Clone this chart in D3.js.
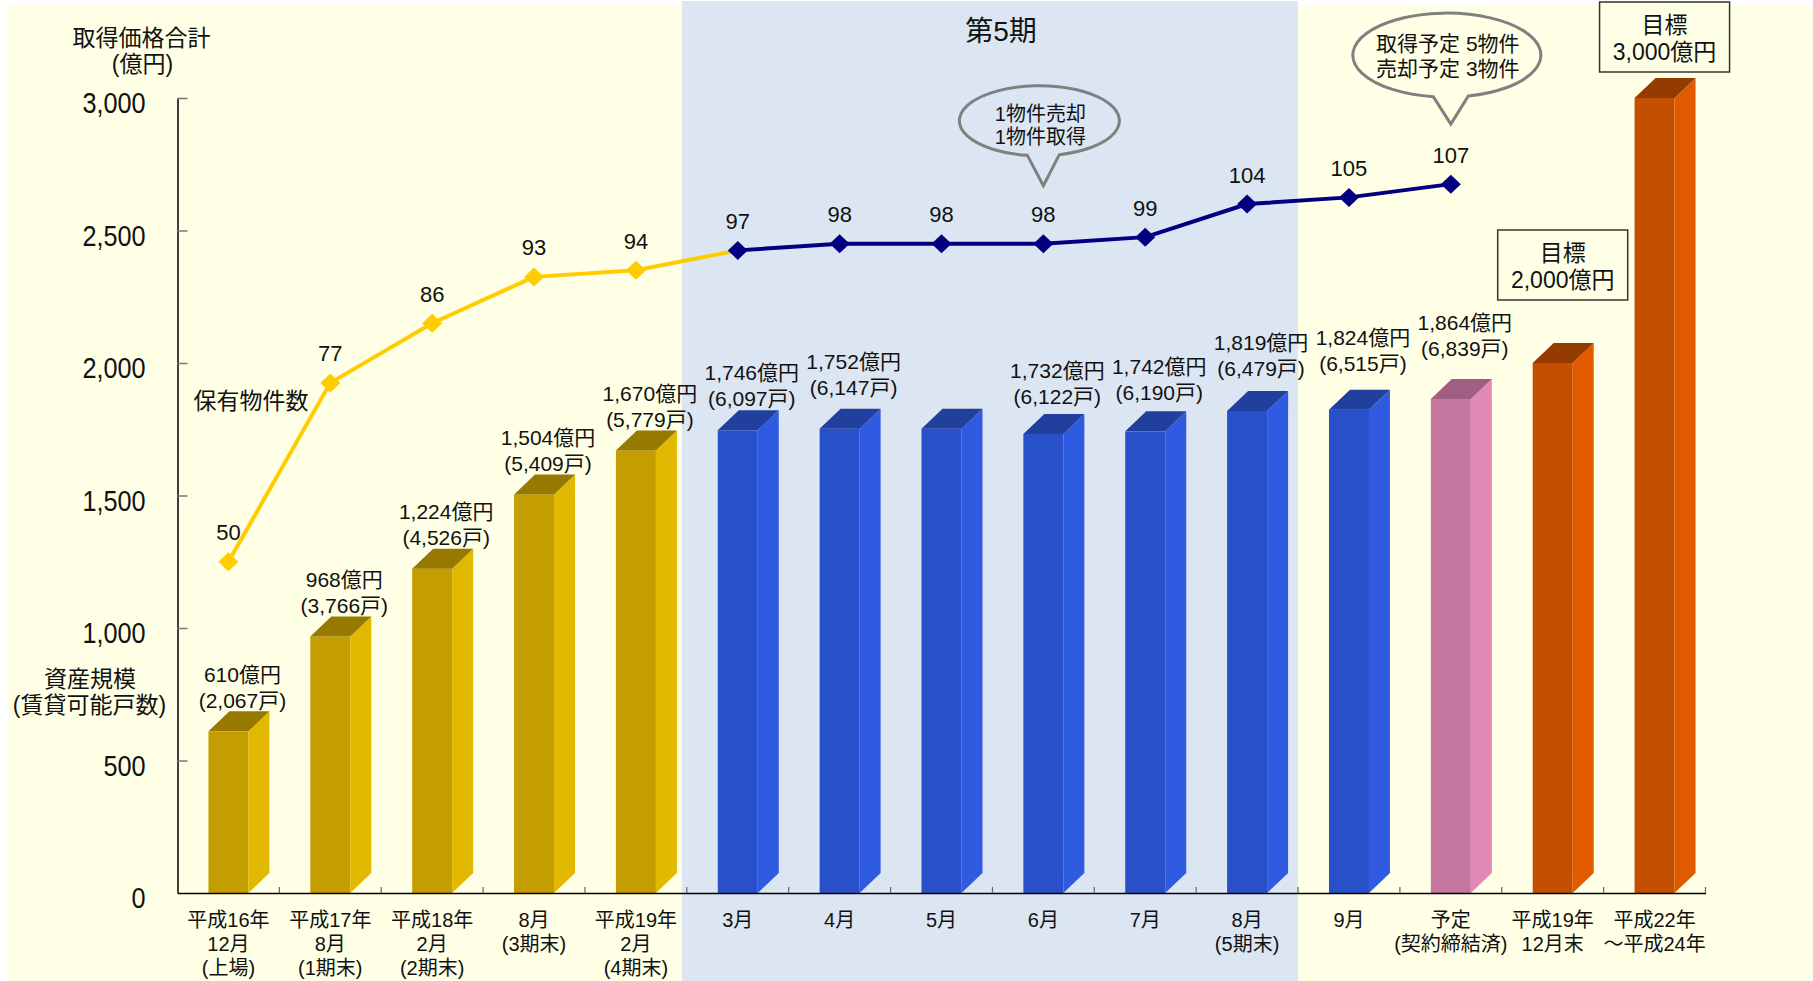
<!DOCTYPE html>
<html><head><meta charset="utf-8">
<script src="https://cdn.jsdelivr.net/npm/d3@7"></script>
<style>
html,body{margin:0;padding:0;background:#fff;}
svg{display:block;}
text{font-family:"Liberation Sans","Noto Sans CJK JP",sans-serif;fill:#111;}
</style></head><body>
<svg id="chart" width="1813" height="981"></svg>
<script>
// ---------- data ----------
const categories = [
  ["平成16年","12月","(上場)"],
  ["平成17年","8月","(1期末)"],
  ["平成18年","2月","(2期末)"],
  ["8月","(3期末)"],
  ["平成19年","2月","(4期末)"],
  ["3月"],
  ["4月"],
  ["5月"],
  ["6月"],
  ["7月"],
  ["8月","(5期末)"],
  ["9月"],
  ["予定","(契約締結済)"],
  ["平成19年","12月末"],
  ["平成22年","～平成24年"]
];
const assetValues   = [610, 968, 1224, 1504, 1670, 1746, 1752, 1752, 1732, 1742, 1819, 1824, 1864, 2000, 3000];
const unitCounts    = [2067, 3766, 4526, 5409, 5779, 6097, 6147, null, 6122, 6190, 6479, 6515, 6839, null, null];
const propertyCounts = [50, 77, 86, 93, 94, 97, 98, 98, 98, 99, 104, 105, 107];
const barGroups     = ["gold","gold","gold","gold","gold","blue","blue","blue","blue","blue","blue","blue","pink","orange","orange"];
const yTicks        = [0, 500, 1000, 1500, 2000, 2500, 3000];
const targetLabels  = [{cat: 13, lines: ["目標","2,000億円"]}, {cat: 14, lines: ["目標","3,000億円"]}];
const callouts      = [{cat: 8, lines: ["1物件売却","1物件取得"]}, {cat: 12, lines: ["取得予定 5物件","売却予定 3物件"]}];
const periodTitle   = "第5期";
const periodCats    = [5, 10];

// ---------- layout (not data) ----------
const labelLift = [0,0,0,0,0,1,10,0,7,8,11,15,20];
const boxGap = [43, 6];
const palette = {
  gold:   {front:"#C49E00", side:"#E2B800", top:"#977900"},
  blue:   {front:"#2850C8", side:"#2F5BE0", top:"#21409E"},
  pink:   {front:"#C4769E", side:"#E289B6", top:"#A05F82"},
  orange: {front:"#C44F00", side:"#E25A00", top:"#963B00"}
};
const CREAM = "#FFFFE6", BLUE_BG = "#DCE6F2";

const svg = d3.select("#chart");
const x = d3.scaleBand().domain(d3.range(categories.length)).range([177.5, 1705.5]).padding(0);
const y = d3.scaleLinear().domain([0, 3000]).range([893, 98]);
const y2 = d3.scaleLinear().domain([0, 120]).range([893, 98]);
const cx = i => x(i) + x.bandwidth() / 2;
const FW = 40, DX = 21, DY = 20;
const fmt = d3.format(",");

// backgrounds
svg.append("rect").attr("x", 8).attr("y", 5).attr("width", 1805).attr("height", 976).attr("fill", CREAM);
const pX0 = x(periodCats[0]) - 5, pX1 = x(periodCats[1]) + x.bandwidth();
svg.append("rect").attr("x", pX0).attr("y", 1).attr("width", pX1 - pX0).attr("height", 980).attr("fill", BLUE_BG);
svg.append("text").attr("x", (pX0 + pX1) / 2 + 11).attr("y", 31).attr("text-anchor", "middle")
  .attr("dominant-baseline", "central").attr("font-size", 28).text(periodTitle);

// bars
const bars = svg.append("g").selectAll("g").data(assetValues).join("g");
bars.append("rect")
  .attr("x", (d, i) => cx(i) - FW / 2).attr("y", d => y(d))
  .attr("width", FW).attr("height", d => y(0) - y(d))
  .attr("fill", (d, i) => palette[barGroups[i]].front);
bars.append("path")
  .attr("d", (d, i) => { const x1 = cx(i) + FW / 2, t = y(d), b = y(0);
    return `M${x1},${b}L${x1},${t}L${x1 + DX},${t - DY}L${x1 + DX},${b - DY}Z`; })
  .attr("fill", (d, i) => palette[barGroups[i]].side);
bars.append("path")
  .attr("d", (d, i) => { const x0 = cx(i) - FW / 2, x1 = cx(i) + FW / 2, t = y(d);
    return `M${x0},${t}L${x1},${t}L${x1 + DX},${t - DY}L${x0 + DX},${t - DY}Z`; })
  .attr("fill", (d, i) => palette[barGroups[i]].top);

// y axis
const yAxis = svg.append("g").attr("transform", "translate(177.5,0)")
  .call(d3.axisLeft(y).tickValues(yTicks).tickSize(-10).tickSizeOuter(0).tickFormat(fmt));
yAxis.select(".domain").attr("stroke", "#000").attr("stroke-width", 1.5);
yAxis.selectAll(".tick line").attr("stroke", "#777").attr("stroke-width", 1.5);
yAxis.selectAll(".tick").filter(d => d === 0).select("line").remove();
yAxis.selectAll(".tick text").attr("x", 0).attr("dy", null)
  .attr("dominant-baseline", "central")
  .attr("transform", "translate(-32,4.5) scale(0.87,1)")
  .attr("font-size", 29).attr("font-family", "Liberation Sans, sans-serif").attr("fill", "#111");

// x axis
const xAxis = svg.append("g").attr("transform", "translate(0,893)")
  .call(d3.axisBottom(x).tickSize(0).tickSizeOuter(0).tickFormat(""));
xAxis.select(".domain").attr("stroke", "#000").attr("stroke-width", 1.5);
svg.append("g").selectAll("line").data(d3.range(1, categories.length + 1)).join("line")
  .attr("x1", i => x(0) + i * x.bandwidth()).attr("x2", i => x(0) + i * x.bandwidth())
  .attr("y1", 893).attr("y2", 887).attr("stroke", "#666").attr("stroke-width", 1.2);
const xl = svg.append("g").selectAll("text").data(categories).join("text")
  .attr("text-anchor", "middle").attr("font-size", 20);
xl.each(function(lines, i) {
  d3.select(this).selectAll("tspan").data(lines).join("tspan")
    .attr("x", cx(i)).attr("y", (l, k) => 920 + k * 24).attr("dominant-baseline", "central").text(l => l);
});

// bar value labels
const labIdx = d3.range(unitCounts.length).filter(i => unitCounts[i] != null);
const bl = svg.append("g").selectAll("text").data(labIdx).join("text")
  .attr("text-anchor", "middle").attr("font-size", 21);
bl.each(function(i) {
  const base = y(assetValues[i]) - DY - 11 - (labelLift[i] || 0);
  const lines = [fmt(assetValues[i]) + "億円", "(" + fmt(unitCounts[i]) + "戸)"];
  d3.select(this).selectAll("tspan").data(lines).join("tspan")
    .attr("x", cx(i) + 14).attr("y", (l, k) => base - (1 - k) * 26)
    .attr("dominant-baseline", "central").text(l => l);
});

// target boxes
targetLabels.forEach((t, k) => {
  const bx = cx(t.cat) + 10, bottom = y(assetValues[t.cat]) - DY - boxGap[k];
  const w = 130, h = 70;
  svg.append("rect").attr("x", bx - w / 2).attr("y", bottom - h).attr("width", w).attr("height", h)
    .attr("fill", CREAM).attr("stroke", "#333").attr("stroke-width", 1.5);
  svg.append("text").attr("text-anchor", "middle").attr("font-size", 23)
    .selectAll("tspan").data(t.lines).join("tspan")
    .attr("x", bx).attr("y", (l, j) => bottom - h + 23 + j * 27)
    .attr("dominant-baseline", "central").text(l => l);
});

// line (property count)
const line = d3.line().x(i => cx(i)).y(i => y2(propertyCounts[i]));
svg.append("path").attr("d", line(d3.range(0, 6))).attr("fill", "none")
  .attr("stroke", "#FFCC00").attr("stroke-width", 4).attr("stroke-linejoin", "round");
svg.append("path").attr("d", line(d3.range(5, propertyCounts.length))).attr("fill", "none")
  .attr("stroke", "#000080").attr("stroke-width", 4).attr("stroke-linejoin", "round");
svg.append("g").selectAll("path").data(propertyCounts).join("path")
  .attr("d", "M0,-9.5L10,0L0,9.5L-10,0Z")
  .attr("transform", (d, i) => `translate(${cx(i)},${y2(d)})`)
  .attr("fill", (d, i) => i < 5 ? "#FFCC00" : "#000080");
svg.append("g").selectAll("text").data(propertyCounts).join("text")
  .attr("x", (d, i) => cx(i)).attr("y", d => y2(d) - 29)
  .attr("text-anchor", "middle").attr("dominant-baseline", "central").attr("font-size", 22)
  .text(d => d);

// callouts
const calloutGeo = [{dtip: 58, dcx: -4, dcy: -65, rx: 80, ry: 35, half: 16, fs: 20, sp: 23, ty: 2},
                    {dtip: 60, dcx: -4, dcy: -69, rx: 94, ry: 42, half: 17.5, fs: 21, sp: 25, ty: -2}];
callouts.forEach((c, k) => {
  const gdef = calloutGeo[k];
  const tipX = cx(c.cat), tipY = y2(propertyCounts[c.cat]) - gdef.dtip;
  const ecx = tipX + gdef.dcx, ecy = tipY + gdef.dcy;
  const ey = xb => ecy + gdef.ry * Math.sqrt(Math.max(0, 1 - ((xb - ecx) / gdef.rx) ** 2));
  const bL = tipX - gdef.half, bR = tipX + gdef.half;
  const p = `M${bR},${ey(bR)}A${gdef.rx},${gdef.ry} 0 1 0 ${bL},${ey(bL)}L${tipX},${tipY}Z`;
  svg.append("path").attr("d", p).attr("fill", "none").attr("stroke", "#808080").attr("stroke-width", 3)
    .attr("stroke-linejoin", "miter");
  svg.append("text").attr("text-anchor", "middle").attr("font-size", gdef.fs)
    .selectAll("tspan").data(c.lines).join("tspan")
    .attr("x", ecx + 1).attr("y", (l, j) => ecy + gdef.ty + (j - 0.5) * gdef.sp + 3)
    .attr("dominant-baseline", "central").text(l => l);
});

// axis titles & side labels
const sideText = (txt, xx, yy) => svg.append("text").attr("x", xx).attr("y", yy)
  .attr("text-anchor", "middle").attr("dominant-baseline", "central").attr("font-size", 23).text(txt);
sideText("取得価格合計", 141.5, 37.5);
sideText("(億円)", 142.5, 64);
sideText("保有物件数", 251, 401);
sideText("資産規模", 90, 679);
sideText("(賃貸可能戸数)", 89.5, 705);
</script>
</body></html>
